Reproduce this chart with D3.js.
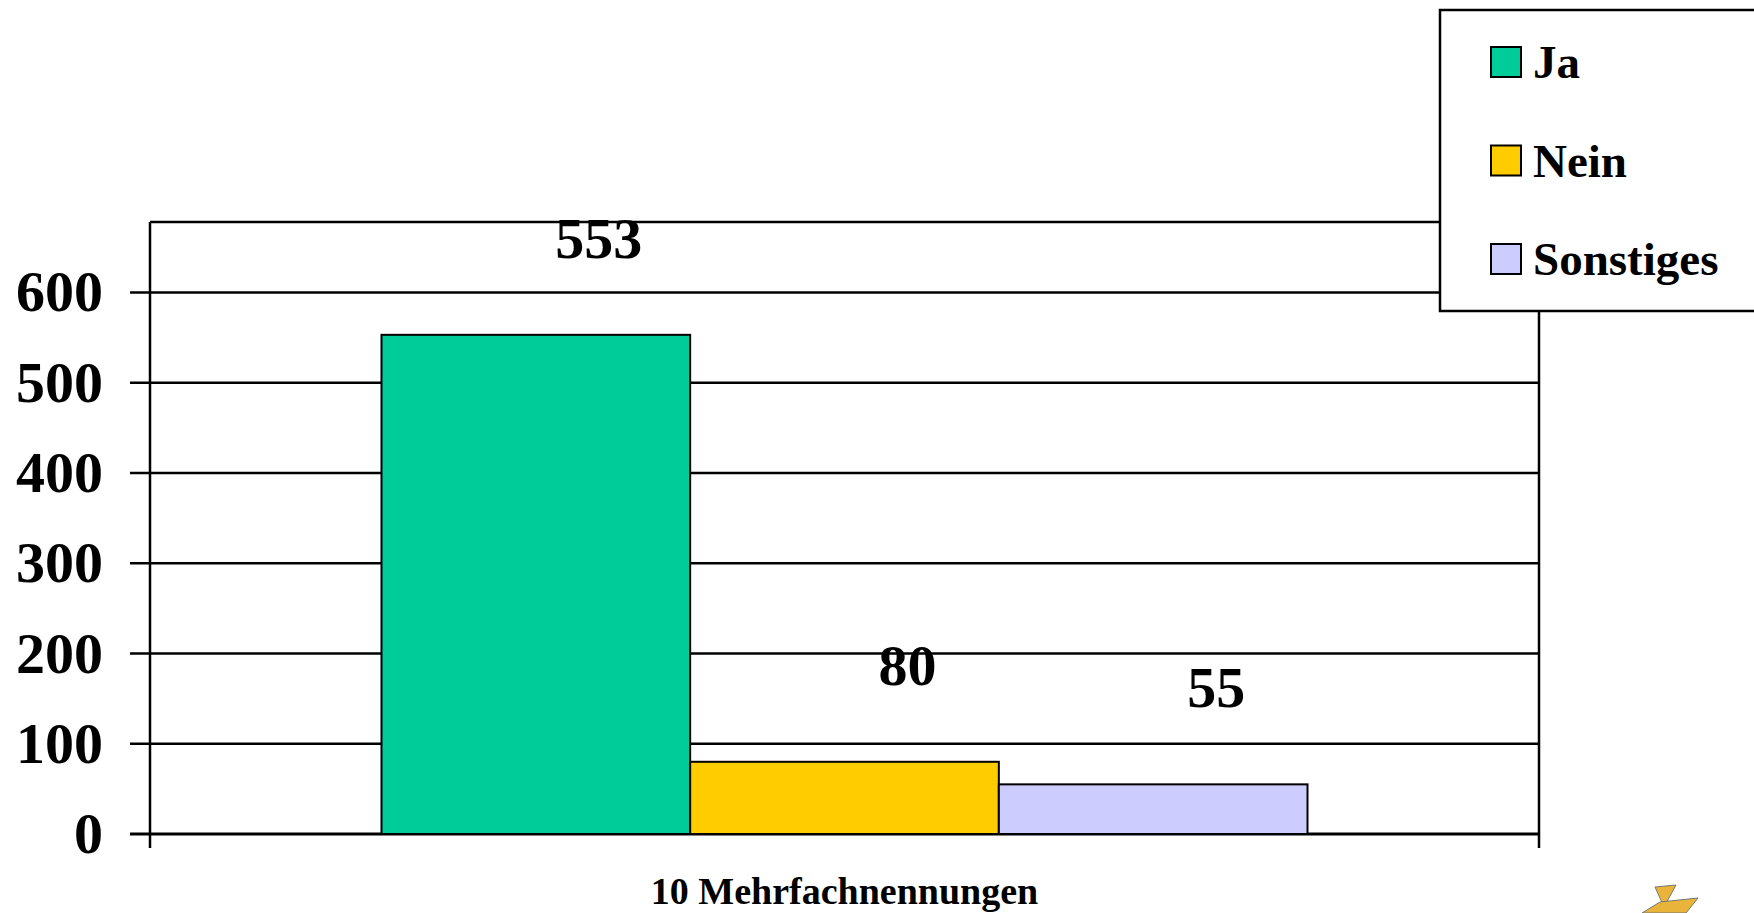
<!DOCTYPE html>
<html>
<head>
<meta charset="utf-8">
<script src="https://cdn.jsdelivr.net/npm/d3@7"></script>
<style>
  body { margin: 0; background: #fff; }
  svg text { font-family: 'Liberation Serif', 'Times New Roman', serif; font-weight: bold; fill: #000; }
</style>
</head>
<body>
<div id="chart"></div>
<script>
// data
var categories = ['10 Mehrfachnennungen'];
var seriesNames = ['Ja', 'Nein', 'Sonstiges'];
var seriesValues = [553, 80, 55];
var yTicks = [0, 100, 200, 300, 400, 500, 600];

var colors = ['#00CC99', '#FFCC00', '#CCCCFF'];

var width = 1754;
var height = 913;
var margin = { top: 222, right: 215, bottom: 79, left: 150 };
var graphWidth = width - margin.left - margin.right;
var graphHeight = height - margin.top - margin.bottom;
var yMax = 678;

var svg = d3
  .select('#chart')
  .append('svg')
  .attr('width', width)
  .attr('height', height);

var graph = svg
  .append('g')
  .attr('transform', 'translate(' + margin.left + ',' + margin.top + ')');

// scales
var x0 = d3
  .scaleBand()
  .domain(categories)
  .range([0, graphWidth])
  .paddingInner(0.2)
  .paddingOuter(0.2);
var x1 = d3
  .scaleBand()
  .domain(seriesNames)
  .range([0, x0.bandwidth()])
  .padding(0);
var y = d3.scaleLinear().domain([0, yMax]).range([graphHeight, 0]);

// grid lines (incl. the left tick stubs)
graph
  .append('g')
  .attr('class', 'grid')
  .selectAll('line')
  .data(yTicks)
  .enter()
  .append('line')
  .attr('x1', -20)
  .attr('x2', graphWidth)
  .attr('y1', d => y(d))
  .attr('y2', d => y(d))
  .attr('stroke', '#000')
  .attr('stroke-width', d => (d === 0 ? 3 : 2.5));

// plot frame, side lines run a little below the axis
graph
  .append('line')
  .attr('x1', 0)
  .attr('x2', graphWidth)
  .attr('y1', 0)
  .attr('y2', 0)
  .attr('stroke', '#000')
  .attr('stroke-width', 2.5);
graph
  .selectAll('.side')
  .data([0, graphWidth])
  .enter()
  .append('line')
  .attr('class', 'side')
  .attr('x1', d => d)
  .attr('x2', d => d)
  .attr('y1', 0)
  .attr('y2', graphHeight + 14)
  .attr('stroke', '#000')
  .attr('stroke-width', 2.5);

// y axis labels
var yAxis = d3
  .axisLeft(y)
  .tickValues(yTicks)
  .tickSize(20)
  .tickPadding(27);
var yAxisGroup = graph.append('g').attr('class', 'y-axis').call(yAxis);
yAxisGroup.select('.domain').remove();
yAxisGroup.selectAll('line').remove();
yAxisGroup.selectAll('text').style('font-size', '58px');

// x axis label
var xAxis = d3
  .axisBottom(x0)
  .tickSize(0)
  .tickPadding(43);
var xAxisGroup = graph
  .append('g')
  .attr('class', 'x-axis')
  .attr('transform', 'translate(0,' + graphHeight + ')')
  .call(xAxis);
xAxisGroup.select('.domain').remove();
xAxisGroup.selectAll('text').style('font-size', '38px');

// bars
var bars = graph
  .append('g')
  .attr('class', 'bars')
  .attr('transform', 'translate(' + x0(categories[0]) + ',0)');

bars
  .selectAll('rect')
  .data(seriesValues)
  .enter()
  .append('rect')
  .attr('x', (d, i) => x1(seriesNames[i]))
  .attr('y', d => y(d))
  .attr('width', x1.bandwidth())
  .attr('height', d => graphHeight - y(d))
  .attr('fill', (d, i) => colors[i])
  .attr('stroke', '#000')
  .attr('stroke-width', 2);

// value labels, Excel puts them up and to the right
bars
  .selectAll('text')
  .data(seriesValues)
  .enter()
  .append('text')
  .attr('x', (d, i) => x1(seriesNames[i]) + x1.bandwidth() / 2 + 63)
  .attr('y', d => y(d) - 77)
  .attr('text-anchor', 'middle')
  .style('font-size', '58px')
  .text(d => d);

// legend
var legend = svg.append('g').attr('transform', 'translate(1440,10)');
legend
  .append('rect')
  .attr('x', 0)
  .attr('y', 0)
  .attr('width', 330)
  .attr('height', 301)
  .attr('fill', '#fff')
  .attr('stroke', '#000')
  .attr('stroke-width', 2.5);

var items = legend
  .selectAll('.item')
  .data(seriesNames)
  .enter()
  .append('g')
  .attr('class', 'item')
  .attr('transform', (d, i) => 'translate(51,' + (37 + i * 98.5) + ')');
items
  .append('rect')
  .attr('width', 30)
  .attr('height', 30)
  .attr('fill', (d, i) => colors[i])
  .attr('stroke', '#000')
  .attr('stroke-width', 2);
items
  .append('text')
  .attr('x', 42)
  .attr('y', 31)
  .style('font-size', '47px')
  .text(d => d);

// bits of the logo peeking in at the bottom right
var logo = svg.append('g').attr('class', 'logo');
logo
  .append('polygon')
  .attr('points', '1655,887 1676,885 1664,907')
  .attr('fill', '#E8B53A')
  .attr('stroke', '#777')
  .attr('stroke-width', 1);
logo
  .append('polygon')
  .attr('points', '1642,913 1660,902 1698,898 1686,913')
  .attr('fill', '#E8B53A')
  .attr('stroke', '#777')
  .attr('stroke-width', 1);
</script>
</body>
</html>
